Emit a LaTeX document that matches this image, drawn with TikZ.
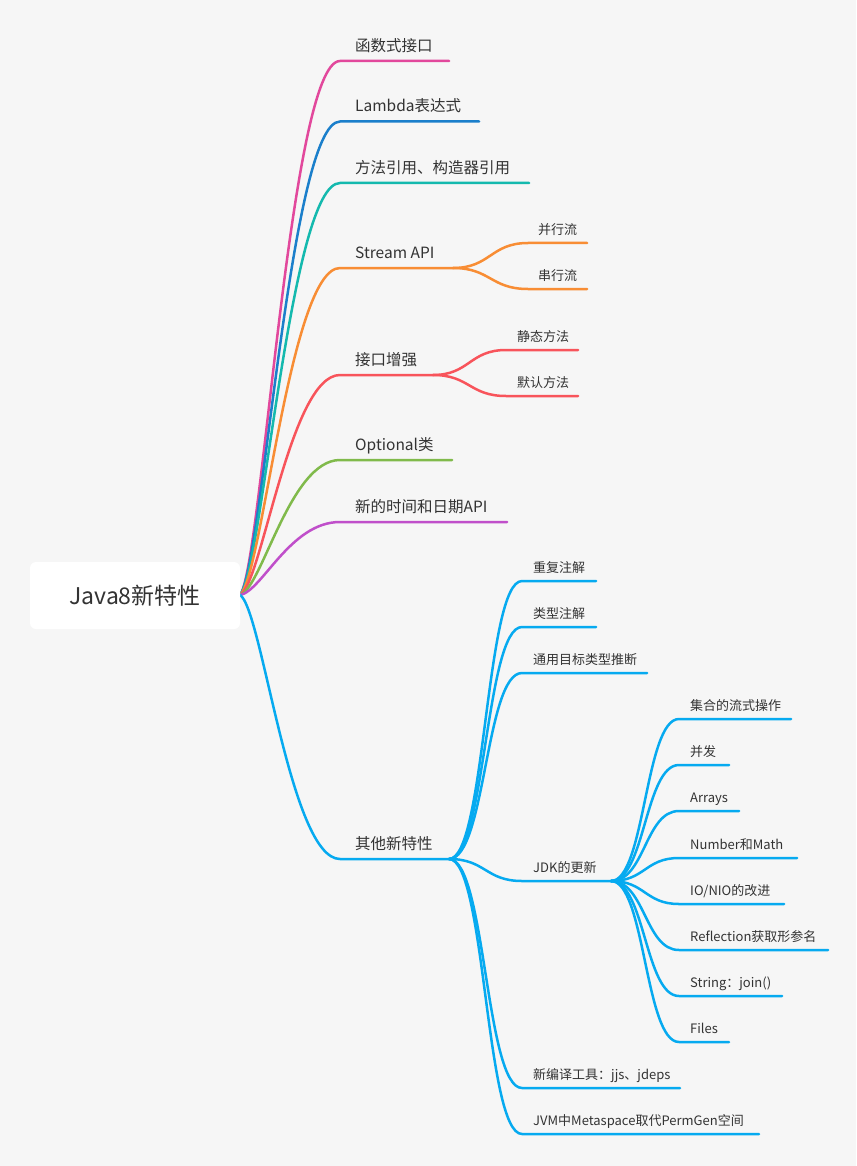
\documentclass[tikz,border=0pt]{standalone}
\usepackage{fontspec}
\setmainfont{Noto Sans CJK SC}
\usetikzlibrary{calc}
\definecolor{bg}{HTML}{F6F6F6}
\definecolor{txt}{HTML}{333333}
\definecolor{cpink}{HTML}{E2489C}
\definecolor{cblue}{HTML}{1B7FCB}
\definecolor{cteal}{HTML}{14B9AE}
\definecolor{corange}{HTML}{F88D34}
\definecolor{cred}{HTML}{F8545B}
\definecolor{cgreen}{HTML}{80BA4B}
\definecolor{cpurple}{HTML}{C04FCA}
\definecolor{ccyan}{HTML}{06AAF0}
\begin{document}
\begin{tikzpicture}[x=1pt,y=-1pt,
  rootbr/.style={line width=2.5pt, line cap=round, line join=round,
    to path={let \p1=(\tikztostart),\p2=(\tikztotarget) in
      .. controls +({0.22*(\x2-\x1)},{0.05*(\y2-\y1)}) and +({-0.5*(\x2-\x1)},0) .. (\tikztotarget)}},
  subbr/.style={line width=2.5pt, line cap=round, line join=round,
    to path={let \p1=(\tikztostart),\p2=(\tikztotarget) in
      .. controls +({0.5*(\x2-\x1)},0) and +({-0.5*(\x2-\x1)},0) .. (\tikztotarget)}},
  lone/.style={anchor=base west, text=txt, font=\fontsize{15.5}{18}\selectfont, inner sep=0pt},
  ltwo/.style={anchor=base west, text=txt, font=\fontsize{13}{15}\selectfont, inner sep=0pt},
  rootbox/.style={fill=white, rounded corners=6pt, minimum width=210pt, minimum height=67pt, inner sep=0pt, text=txt, font=\fontsize{23}{26}\selectfont},
]
\fill[bg] (0,0) rectangle (856,1166);

% hubs
\coordinate (R) at (240,595);
% level 1
\coordinate (fs) at (340,61);   \coordinate (fe) at (449,61);
\coordinate (ls) at (340,121.5);\coordinate (le) at (479,121.5);
\coordinate (ms) at (340,183);  \coordinate (me) at (529,183);
\coordinate (ss) at (340,268);  \coordinate (se) at (453,268);
\coordinate (js) at (340,375);  \coordinate (je) at (433,375);
\coordinate (os) at (340,460);  \coordinate (oe) at (452,460);
\coordinate (ds) at (340,522);  \coordinate (de) at (507,522);
\coordinate (qs) at (340,859);  \coordinate (qe) at (449,859);

\draw[rootbr, cpink]   (R) to (fs) -- (fe);
\draw[rootbr, cblue]   (R) to (ls) -- (le);
\draw[rootbr, cteal]   (R) to (ms) -- (me);
\draw[rootbr, corange] (R) to (ss) -- (se);
\draw[rootbr, cred]    (R) to (js) -- (je);
\draw[rootbr, cgreen]  (R) to (os) -- (oe);
\draw[rootbr, cpurple] (R) to (ds) -- (de);
\draw[rootbr, ccyan]   (R) to (qs) -- (qe);

\node[lone] (tf) at (355,51.5) {函数式接口};
\node[lone] (tl) at (355,112) {Lambda表达式};
\node[lone] (tm) at (355,173.5) {方法引用、构造器引用};
\node[lone] (ts) at (355,258.5) {Stream API};
\node[lone] (tj) at (355,365.5) {接口增强};
\node[lone] (to) at (355,450.5) {Optional类};
\node[lone] (td) at (355,512.5) {新的时间和日期API};
\node[lone] (tq) at (355,849.5) {其他新特性};

% Stream children
\coordinate (s1s) at (528,243); \coordinate (s1e) at (587,243);
\coordinate (s2s) at (528,289); \coordinate (s2e) at (587,289);
\draw[subbr, corange] (se) to (s1s) -- (s1e);
\draw[subbr, corange] (se) to (s2s) -- (s2e);
\node[ltwo] (ts1) at (538,234.5) {并行流};
\node[ltwo] (ts2) at (538,280.5) {串行流};

% interface children
\coordinate (j1s) at (506,350); \coordinate (j1e) at (578,350);
\coordinate (j2s) at (506,396); \coordinate (j2e) at (578,396);
\draw[subbr, cred] (je) to (j1s) -- (j1e);
\draw[subbr, cred] (je) to (j2s) -- (j2e);
\node[ltwo] (tj1) at (517,341.5) {静态方法};
\node[ltwo] (tj2) at (517,387.5) {默认方法};

% other children
\coordinate (q1s) at (522,581);  \coordinate (q1e) at (596,581);
\coordinate (q2s) at (522,627);  \coordinate (q2e) at (596,627);
\coordinate (q3s) at (522,673);  \coordinate (q3e) at (647,673);
\coordinate (q4s) at (522,881);  \coordinate (q4e) at (611,881);
\coordinate (q5s) at (522,1088); \coordinate (q5e) at (680,1088);
\coordinate (q6s) at (522,1134); \coordinate (q6e) at (759,1134);
\foreach \i in {1,...,6}{\draw[subbr, ccyan] (qe) to (q\i s) -- (q\i e);}
\node[ltwo] (tq1) at (533,572.5) {重复注解};
\node[ltwo] (tq2) at (533,618.5) {类型注解};
\node[ltwo] (tq3) at (533,664.5) {通用目标类型推断};
\node[ltwo] (tq4) at (533,872.5) {JDK的更新};
\node[ltwo] (tq5) at (533,1079.5) {新编译工具：jjs、jdeps};
\node[ltwo] (tq6) at (533,1125.5) {JVM中Metaspace取代PermGen空间};

% JDK children
\coordinate (k1s) at (679,719);  \coordinate (k1e) at (791,719);
\coordinate (k2s) at (679,765);  \coordinate (k2e) at (729,765);
\coordinate (k3s) at (679,811);  \coordinate (k3e) at (739,811);
\coordinate (k4s) at (679,858);  \coordinate (k4e) at (797,858);
\coordinate (k5s) at (679,904);  \coordinate (k5e) at (784,904);
\coordinate (k6s) at (679,950);  \coordinate (k6e) at (828,950);
\coordinate (k7s) at (679,996);  \coordinate (k7e) at (782,996);
\coordinate (k8s) at (679,1042); \coordinate (k8e) at (729,1042);
\foreach \i in {1,...,8}{\draw[subbr, ccyan] (q4e) to (k\i s) -- (k\i e);}
\node[ltwo] (tk1) at (690,710.5) {集合的流式操作};
\node[ltwo] (tk2) at (690,756.5) {并发};
\node[ltwo] (tk3) at (690,802.5) {Arrays};
\node[ltwo] (tk4) at (690,849.5) {Number和Math};
\node[ltwo] (tk5) at (690,895.5) {IO/NIO的改进};
\node[ltwo] (tk6) at (690,941.5) {Reflection获取形参名};
\node[ltwo] (tk7) at (690,987.5) {String：join()};
\node[ltwo] (tk8) at (690,1033.5) {Files};

% root
\node[rootbox] (root) at (135,595.5) {Java8新特性};
\end{tikzpicture}
\end{document}
